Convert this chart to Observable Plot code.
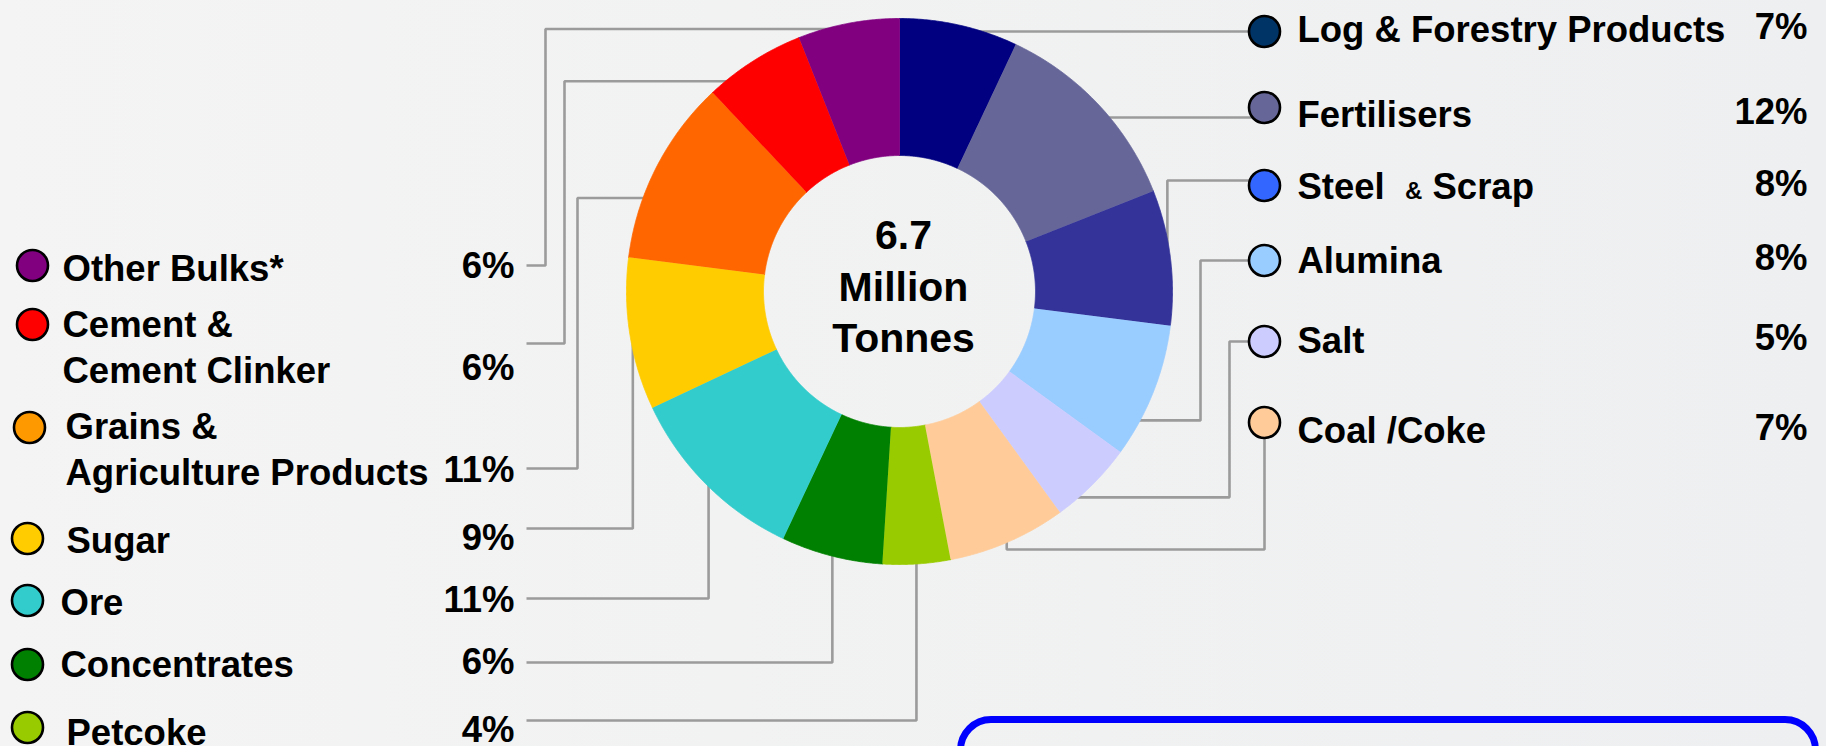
<!DOCTYPE html>
<html><head><meta charset="utf-8">
<script src="https://cdn.jsdelivr.net/npm/d3@7"></script>
<script src="https://cdn.jsdelivr.net/npm/@observablehq/plot@0.6"></script>
<style>
html,body{margin:0;padding:0;width:1826px;height:746px;overflow:hidden;background:linear-gradient(to right,#f4f4f4,#eeeff0);}
#chart{position:absolute;left:0;top:0;}
svg text{white-space:pre;}
#box{position:absolute;left:957px;top:716px;width:862px;height:140px;border:7px solid #0000ff;border-radius:34px;box-sizing:border-box;}
</style></head><body><div id="chart"></div><div id="box"></div>
<script>
// ---- data ----
const categories = ["Log & Forestry Products","Fertilisers","Steel  & Scrap","Alumina","Salt","Coal /Coke","Petcoke","Concentrates","Ore","Sugar","Grains & Agriculture Products","Cement & Cement Clinker","Other Bulks*"];
const legendLabels = ["Log & Forestry Products","Fertilisers","Steel  & Scrap","Alumina","Salt","Coal /Coke","Petcoke","Concentrates","Ore","Sugar","Grains &\nAgriculture Products","Cement &\nCement Clinker","Other Bulks*"];
const shares = [7,12,8,8,5,7,4,6,11,9,11,6,6];
const pctLabels = ["7%","12%","8%","8%","5%","7%","4%","6%","11%","9%","11%","6%","6%"];
const sliceColors = ["#000080","#666699","#333399","#99CCFF","#CCCCFF","#FFCC99","#99CC00","#008000","#33CCCC","#FFCC00","#FF6600","#FF0000","#800080"];
const legendColors = ["#003366","#666699","#3366FF","#99CCFF","#CCCCFF","#FFCC99","#99CC00","#008000","#33CCCC","#FFCC00","#FF9900","#FF0000","#800080"];
const totalLabel = ["6.7","Million","Tonnes"];

// ---- layout (pixels) ----
const W = 1826, H = 746;
const cx = 899, cy = 291, R = 273, R0 = 136;
const font = 36.5;
// per category: legend circle, text, percent, leader route
const layout = [
  {side:"R", dotX:1264, dotY:31,  textY:27,  leaderY:31,  route:"h"},
  {side:"R", dotX:1264, dotY:107, textY:112, leaderY:117, route:"h"},
  {side:"R", dotX:1264, dotY:185, textY:184, leaderY:180, route:"vh", at:0.5},
  {side:"R", dotX:1264, dotY:260, textY:258, leaderY:260, route:"hvh", at:0.74, bus:1200},
  {side:"R", dotX:1264, dotY:341, textY:338, leaderY:341, route:"hvh", at:0.76, bus:1229},
  {side:"R", dotX:1264, dotY:422, textY:428, leaderY:422, route:"vhv", at:0.5, busY:549},
  {side:"L", dotX:27, dotY:727, textX:66, textY:730, pctY:730, leaderY:720, route:"vh", at:0.5},
  {side:"L", dotX:27, dotY:664, textX:60, textY:662, pctY:662, leaderY:662, route:"vh", at:0.5},
  {side:"L", dotX:27, dotY:600, textX:60, textY:600, pctY:600, leaderY:598, route:"vh", at:0.5},
  {side:"L", dotX:27, dotY:538, textX:66, textY:537.5, pctY:537.5, leaderY:528, route:"vh", at:0.5},
  {side:"L", dotX:29, dotY:427, textX:65, textY:447, pctY:470, leaderY:468, route:"hvh", at:0.33, bus:577},
  {side:"L", dotX:32, dotY:324, textX:62, textY:345, pctY:367.5, leaderY:343, route:"hvh", at:0.2, bus:564},
  {side:"L", dotX:32, dotY:265, textX:62, textY:266, pctY:266, leaderY:265, route:"hvh", at:0.375, bus:545}
];
const rightTextX = 1297, rightPctX = 1807, leftPctX = 514, leftLeaderX = 526;

// ---- derived geometry ----
const total = d3.sum(shares);
const cum = [0]; shares.forEach(v => cum.push(cum[cum.length-1] + v));
const ang = v => v / total * 2 * Math.PI;
const polar = (a, r) => [cx + r*Math.sin(a), cy - r*Math.cos(a)];

const slicePts = [];
categories.forEach((c, i) => {
  const a0 = ang(cum[i]), a1 = ang(cum[i+1]);
  const n = Math.max(2, Math.ceil((a1 - a0) / (Math.PI/720)));
  for (let k = 0; k <= n; k++) { const [x,y] = polar(a0 + (a1-a0)*k/n, R); slicePts.push({id:c, x, y, color:sliceColors[i]}); }
  for (let k = n; k >= 0; k--) { const [x,y] = polar(a0 + (a1-a0)*k/n, R0); slicePts.push({id:c, x, y, color:sliceColors[i]}); }
});

const leaderPts = [];
categories.forEach((c, i) => {
  const L = layout[i];
  const Lpt = L.side === "L" ? [leftLeaderX, L.leaderY] : [L.dotX, L.leaderY];
  let pts;
  if (L.route === "h") {
    const dy = L.leaderY - cy, rr = R - 3;
    const x = cx + (L.side === "R" ? 1 : -1) * Math.sqrt(Math.max(0, rr*rr - dy*dy));
    pts = [[x, L.leaderY], Lpt];
  } else {
    const A = polar(ang(cum[i] + L.at*shares[i]), R - 3);
    if (L.route === "vh") pts = [A, [A[0], Lpt[1]], Lpt];
    else if (L.route === "hvh") pts = [A, [L.bus, A[1]], [L.bus, Lpt[1]], Lpt];
    else pts = [A, [A[0], L.busY], [Lpt[0], L.busY], Lpt];
  }
  pts.forEach(([x,y]) => leaderPts.push({id:c, x, y}));
});

const items = categories.map((c, i) => {
  const L = layout[i];
  return {
    name: c, label: legendLabels[i], pct: pctLabels[i], color: legendColors[i],
    dx: L.dotX, dy: L.dotY,
    tx: L.side === "L" ? L.textX : rightTextX, ty: L.textY,
    px: L.side === "L" ? leftPctX : rightPctX, py: L.side === "L" ? L.pctY : L.textY
  };
});

const chart = Plot.plot({
  width: W, height: H,
  marginTop: 0, marginRight: 0, marginBottom: 0, marginLeft: 0,
  x: {domain: [0, W], range: [0, W], axis: null},
  y: {domain: [0, H], range: [0, H], axis: null},
  color: {type: "identity"},
  style: {fontFamily: "'Liberation Sans', Arial, sans-serif", background: "transparent", overflow: "visible"},
  marks: [
    Plot.line(leaderPts, {x: "x", y: "y", z: "id", stroke: "#9b9b9b", strokeWidth: 2.6, strokeLinejoin: "miter", strokeLinecap: "butt"}),
    Plot.line(slicePts, {x: "x", y: "y", z: "id", fill: "color", stroke: "color", strokeWidth: 0.8}),
    Plot.dot(items, {x: "dx", y: "dy", r: 15.5, fill: "color", stroke: "black", strokeWidth: 2.6}),
    Plot.text(items, {x: "tx", y: "ty", text: "label", textAnchor: "start", fontSize: font, fontWeight: "bold", lineHeight: 1.25, fill: "black"}),
    Plot.text(items, {x: "px", y: "py", text: "pct", textAnchor: "end", fontSize: font, fontWeight: "bold", fill: "black"}),
    Plot.text([totalLabel.join("\n")], {x: () => cx, y: () => cy, dx: 4, dy: -7, text: d => d, fontSize: 41, fontWeight: "bold", lineHeight: 1.256, fill: "black"})
  ]
});
document.getElementById("chart").appendChild(chart);

// smaller ampersand in "Steel  & Scrap", as in the original
d3.select(chart).selectAll("text").each(function() {
  if (this.textContent === "Steel  & Scrap" && this.children.length === 0) {
    const t = d3.select(this);
    t.text(null);
    t.append("tspan").text("Steel  ");
    t.append("tspan").attr("font-size", 24).text("&");
    t.append("tspan").text(" Scrap");
  }
});
</script></body></html>
